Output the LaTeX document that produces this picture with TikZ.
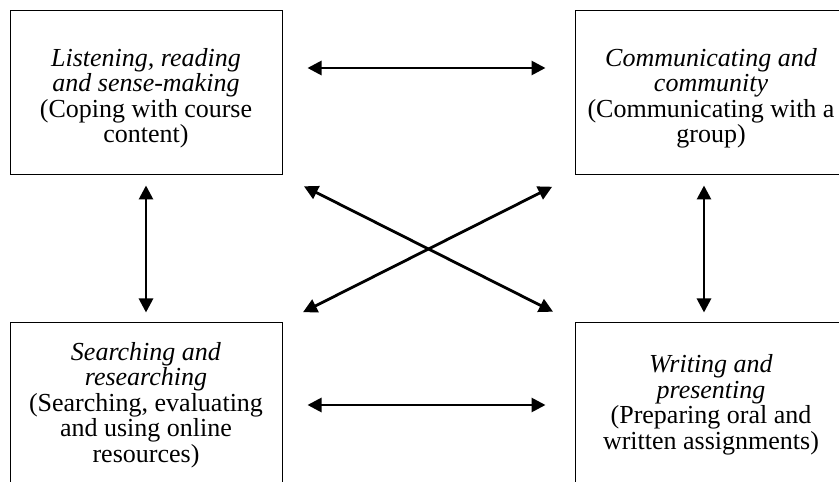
\documentclass[tikz,border=0pt]{standalone}
\usepackage{fontspec}
\setmainfont{Liberation Serif}
\usetikzlibrary{arrows.meta}

\newcommand{\lowerstrut}{\rule{0pt}{29pt}}

\begin{document}

\begin{tikzpicture}[x=1pt,y=1pt,
    skillbox/.style={draw, line width=1pt, minimum width=272pt, minimum height=164pt,
      align=center, font=\fontsize{26}{25.5}\selectfont, inner sep=0pt},
    link/.style={line width=2.8pt, {Triangle[length=14pt,width=14pt]}-{Triangle[length=14pt,width=14pt]}}]

    \clip (0,0) rectangle (839,482);

    \node[skillbox] (listen) at (146,389) {\lowerstrut\textit{Listening, reading}\\ \textit{and sense-making}\\(Coping with course\\content)};

    \node[skillbox] (commun) at (711,389) {\lowerstrut\textit{Communicating and}\\ \textit{community}\\(Communicating with a\\group)};

    \node[skillbox] (search) at (146,77) {\textit{Searching and}\\ \textit{researching}\\(Searching, evaluating\\and using online\\resources)};

    \node[skillbox] (write) at (711,77) {\textit{Writing and}\\ \textit{presenting}\\(Preparing oral and\\written assignments)};



    \draw[link, shorten <=25pt, shorten >=29pt] ([yshift=25pt]listen.east) -- ([yshift=25pt]commun.west);

    \draw[link, shorten <=25pt, shorten >=29pt] (search.east) -- (write.west);

    \draw[link, shorten <=10pt, shorten >=10pt] (listen.south) -- (search.north);

    \draw[link, shorten <=10pt, shorten >=10pt] ([xshift=-7pt]commun.south) -- ([xshift=-7pt]write.north);

    \draw[link, shorten <=24pt, shorten >=24pt] (listen.south east) -- (write.north west);

    \draw[link, shorten <=23pt, shorten >=25pt] (search.north east) -- (commun.south west);

  \end{tikzpicture}

\end{document}
